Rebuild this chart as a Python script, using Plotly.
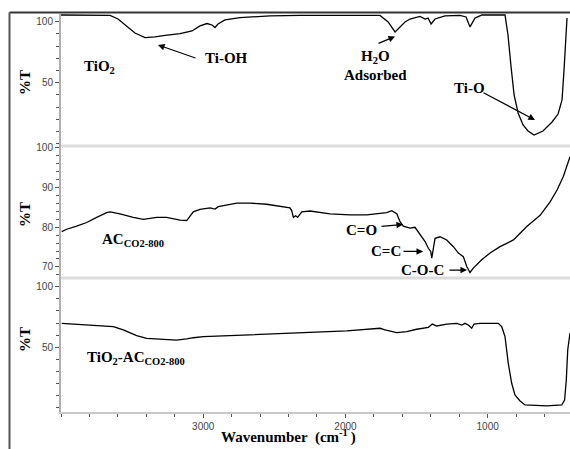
import plotly.graph_objects as go

# ---------------- data ----------------
tio2_wn = [4000, 3655, 3599, 3550, 3480, 3409, 3339, 3269, 3163, 3079, 3023, 2973, 2938, 2917,
           2896, 2847, 2741, 2530, 2319, 1757, 1700, 1651, 1616, 1581, 1546, 1511, 1476, 1440,
           1419, 1398, 1370, 1300, 1194, 1152, 1124, 1089, 1040, 878, 857, 836, 814, 786, 751,
           716, 674, 611, 547, 505, 477, 463, 449, 442]
tio2_t = [105.5, 105.1, 102.2, 97.3, 90.7, 87.0, 87.5, 88.7, 90.3, 92.4, 96.5, 98.5, 97.3, 95.2,
          98.1, 101.4, 103.4, 104.7, 105.1, 105.1, 99.8, 91.6, 95.7, 99.8, 102.2, 103.0, 104.3, 102.2,
          103.0, 98.1, 102.2, 104.7, 105.1, 103.9, 95.7, 103.0, 105.5, 105.5, 89.1, 63.7, 39.9, 25.2, 15.3,
          10.4, 7.1, 10.4, 17.8, 24.3, 35.8, 60.4, 93.2, 103.0]

ac_wn = [3995, 3960, 3890, 3819, 3749, 3679, 3655, 3585, 3492, 3421, 3327, 3257, 3163, 3116,
         3070, 3023, 2952, 2917, 2894, 2835, 2764, 2671, 2554, 2390, 2378, 2366, 2350, 2336,
         2307, 2249, 2108, 1968, 1850, 1710, 1675, 1639, 1616, 1593, 1546, 1511, 1476, 1440,
         1417, 1400, 1393, 1382, 1370, 1335, 1288, 1241, 1206, 1171, 1147, 1124, 1101, 1042,
         983, 913, 819, 725, 631, 561, 512, 468, 421]
ac_t = [78.9, 79.5, 80.3, 81.2, 82.5, 83.7, 83.9, 83.4, 82.5, 82.0, 82.5, 82.5, 81.8, 81.7,
        83.9, 84.5, 84.9, 84.6, 85.2, 85.6, 86.1, 86.1, 85.8, 84.9, 84.2, 82.5, 82.9, 82.5,
        83.9, 84.1, 83.4, 83.1, 83.1, 83.7, 84.2, 83.4, 81.4, 80.3, 79.8, 80.0, 78.1, 76.4,
        74.7, 73.9, 72.2, 74.7, 77.2, 77.6, 76.8, 75.1, 73.5, 72.6, 70.1, 68.6, 69.7, 71.8,
        73.5, 75.1, 76.8, 80.2, 83.0, 86.4, 89.4, 92.8, 97.8]

comp_wn = [3995, 3866, 3726, 3632, 3562, 3468, 3398, 3281, 3187, 3116, 3070, 2999, 2882, 2694,
           2460, 2226, 1991, 1757, 1722, 1639, 1569, 1499, 1417, 1389, 1358, 1288, 1217, 1182,
           1159, 1136, 1112, 1096, 1054, 925, 901, 878, 855, 831, 808, 772, 737, 585, 479, 459,
           447, 437, 421]
comp_t = [69.8, 69.0, 67.6, 67.0, 64.3, 59.6, 57.4, 56.6, 56.0, 56.9, 57.9, 58.8, 59.3, 60.2,
          61.0, 62.1, 63.5, 65.7, 64.3, 62.1, 62.9, 64.9, 66.5, 69.2, 67.6, 69.2, 69.8, 68.4,
          69.8, 68.4, 65.7, 69.2, 69.8, 69.8, 67.0, 58.8, 36.8, 20.3, 10.6, 5.7, 2.4, 1.6, 2.4,
          6.5, 23.0, 47.8, 61.8]

x_ticks = [3000, 2000, 1000]
x_tick_labels = ["3000", "2000", "1000"]
y1_ticks = [50, 100]
y2_ticks = [70, 80, 90, 100]
y3_ticks = [50, 100]

# ---------------- figure ----------------
fig = go.Figure()
line = dict(color="black", width=1.3)
fig.add_trace(go.Scatter(x=tio2_wn, y=tio2_t, mode="lines", line=line, xaxis="x", yaxis="y",
                         showlegend=False, hoverinfo="skip"))
fig.add_trace(go.Scatter(x=ac_wn, y=ac_t, mode="lines", line=line, xaxis="x", yaxis="y2",
                         showlegend=False, hoverinfo="skip"))
fig.add_trace(go.Scatter(x=comp_wn, y=comp_t, mode="lines", line=line, xaxis="x", yaxis="y3",
                         showlegend=False, hoverinfo="skip"))

tickfont = dict(family="Liberation Sans, Arial, sans-serif", size=10, color="#444")
serif = "Liberation Serif, Times New Roman, serif"

d1 = [0.66834, 1.0]
d2 = [0.33668, 0.66834]
d3 = [0.0, 0.33668]


def yax(domain, rng, ticks, minor_dtick):
    return dict(domain=domain, range=rng, anchor="x", tickmode="array", tickvals=ticks,
                ticktext=[str(t) for t in ticks], ticks="outside", ticklen=4, tickcolor="#555",
                tickfont=tickfont, showline=True, linecolor="#b0b0b0", linewidth=2,
                showgrid=False, zeroline=False,
                minor=dict(dtick=minor_dtick, tick0=0, ticks="outside", ticklen=3,
                           tickcolor="#555", showgrid=False))


fig.update_layout(
    width=570, height=449,
    margin=dict(l=61, r=0, t=14, b=37),
    paper_bgcolor="white", plot_bgcolor="white",
    xaxis=dict(domain=[0, 1], range=[4000, 421], anchor="y3", tickmode="array",
               tickvals=x_ticks, ticktext=x_tick_labels, ticks="outside", ticklen=4,
               tickcolor="#555", tickfont=tickfont, showline=True, linecolor="#c8c8c8",
               linewidth=2, showgrid=False, zeroline=False,
               minor=dict(dtick=200, tick0=0, ticks="outside", ticklen=3, tickcolor="#555",
                          showgrid=False)),
    yaxis=yax(d1, [-1.9, 106.3], y1_ticks, 10),
    yaxis2=yax(d2, [67.2, 100.5], y2_ticks, 2),
    yaxis3=yax(d3, [-3.4, 107.2], y3_ticks, 10),
)

# separators and outer frame
shapes = [
    dict(type="line", xref="paper", yref="paper", x0=0, x1=1, y0=d1[0], y1=d1[0],
         line=dict(color="#dcdcdc", width=3)),
    dict(type="line", xref="paper", yref="paper", x0=0, x1=1, y0=d2[0], y1=d2[0],
         line=dict(color="#dcdcdc", width=3)),
    dict(type="line", xref="paper", yref="paper", x0=-0.1012, x1=1.0, y0=1.0038, y1=1.0038,
         line=dict(color="#333", width=2)),
    dict(type="line", xref="paper", yref="paper", x0=-0.1012, x1=-0.1012, y0=-0.1, y1=1.0038,
         line=dict(color="#555", width=2)),
]
fig.update_layout(shapes=shapes)

anns = []


def text(x, y, t, yref, xanchor="center", size=15):
    anns.append(dict(x=x, y=y, xref="x", yref=yref, text="<b>" + t + "</b>", showarrow=False,
                     xanchor=xanchor, yanchor="middle", font=dict(family=serif, size=size,
                                                                  color="black")))


def arrow(x0, y0, x1, y1, yref):
    anns.append(dict(x=x1, y=y1, ax=x0, ay=y0, xref="x", yref=yref, axref="x", ayref=yref,
                     text="", showarrow=True, arrowhead=2, arrowsize=1.1, arrowwidth=1.2,
                     arrowcolor="black", standoff=0, startstandoff=0))


# panel 1
text(3726, 62.9, "TiO<sub>2</sub>", "y")
text(2833, 70.2, "Ti-OH", "y")
arrow(3044, 69.8, 3318, 80.9, "y")
text(1792, 71.1, "H<sub>2</sub>O", "y")
text(1792, 56.3, "Adsorbed", "y")
arrow(1778, 81.7, 1651, 87.9, "y")
text(1131, 45.7, "Ti-O", "y")
arrow(1040, 42.4, 667, 19.4, "y")
# panel 2
text(3726, 76.8, "AC<sub>CO2-800</sub>", "y2", xanchor="left")
text(1890, 79.3, "C=O", "y2")
arrow(1757, 80.2, 1595, 80.7, "y2")
text(1715, 73.9, "C=C", "y2")
arrow(1602, 73.9, 1454, 73.9, "y2")
text(1461, 69.2, "C-O-C", "y2")
arrow(1279, 69.2, 1145, 69.2, "y2")
# panel 3
text(3831, 41.2, "TiO<sub>2</sub>-AC<sub>CO2-800</sub>", "y3", xanchor="left")

# axis titles
for yy in [0.8266, 0.4950, 0.1809]:
    anns.append(dict(x=-0.0707, y=yy, xref="paper", yref="paper", text="<b>%T</b>",
                     showarrow=False, textangle=-90, xanchor="center", yanchor="middle",
                     font=dict(family=serif, size=15, color="black")))
anns.append(dict(x=0.446, y=-0.0628, xref="paper", yref="paper",
                 text="<b>Wavenumber  (cm<sup>-1</sup>\u2009)</b>", showarrow=False,
                 xanchor="center", yanchor="middle",
                 font=dict(family=serif, size=15, color="black")))

fig.update_layout(annotations=anns)
fig.write_html("out.html", config={"displayModeBar": False},
               post_script="document.body.style.margin='0';document.body.style.padding='0';")
